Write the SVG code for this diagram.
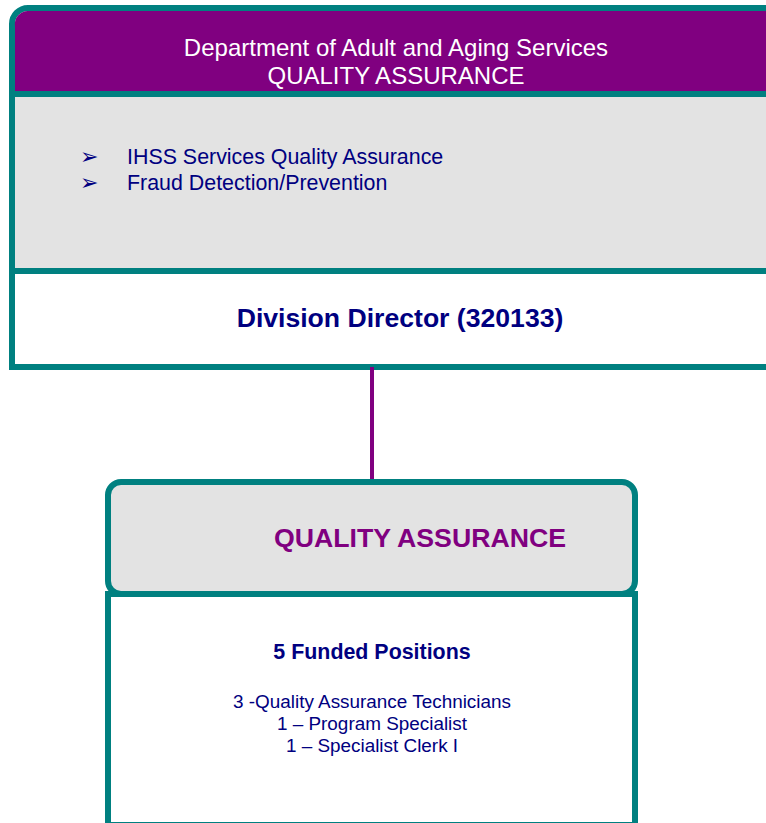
<svg xmlns="http://www.w3.org/2000/svg" width="766" height="823" viewBox="0 0 766 823">
<style>
.t{font-family:"Liberation Sans",Arial,sans-serif}
.navy{fill:#000080}
.bd{stroke:#008080;stroke-width:6}
.ar{font-family:"DejaVu Sans",sans-serif;font-size:22px;fill:#000080}
</style>
<rect width="766" height="823" fill="#ffffff"/>
<g id="top-box">
  <path d="M12 367 V24 A16 16 0 0 1 28 8 H810 V367 Z" fill="#ffffff" class="bd"/>
  <path d="M15 91 V26 A13 13 0 0 1 28 11 H810 V91 Z" fill="#800080"/>
  <rect x="15" y="97" width="795" height="171" fill="#e3e3e3"/>
  <line x1="12" y1="94" x2="810" y2="94" class="bd"/>
  <line x1="12" y1="271" x2="810" y2="271" class="bd"/>
  <text class="t" x="396" y="56" font-size="24" fill="#ffffff" text-anchor="middle">Department of Adult and Aging Services</text>
  <text class="t" x="396" y="84" font-size="24" fill="#ffffff" text-anchor="middle">QUALITY ASSURANCE</text>
  <text x="80" y="164" class="ar">➢</text>
  <text x="80" y="190" class="ar">➢</text>
  <text class="t navy" x="127" y="164" font-size="21.4">IHSS Services Quality Assurance</text>
  <text class="t navy" x="127" y="190" font-size="21.4">Fraud Detection/Prevention</text>
  <text class="t navy" x="400" y="327" font-size="26.6" font-weight="bold" text-anchor="middle">Division Director (320133)</text>
</g>
<g id="connectors">
  <line x1="372" y1="367" x2="372" y2="490" stroke="#800080" stroke-width="4"/>
</g>
<g id="qa-details">
  <rect x="108" y="594" width="527" height="231" fill="#ffffff" class="bd"/>
  <text class="t navy" x="372" y="659" font-size="21.4" font-weight="bold" text-anchor="middle">5 Funded Positions</text>
  <text class="t navy" x="372" y="708" font-size="18.9" text-anchor="middle">3 -Quality Assurance Technicians</text>
  <text class="t navy" x="372" y="730" font-size="18.9" text-anchor="middle">1 – Program Specialist</text>
  <text class="t navy" x="372" y="752" font-size="18.9" text-anchor="middle">1 – Specialist Clerk I</text>
</g>
<g id="qa-header">
  <rect x="108" y="482" width="527" height="112" rx="13" fill="#e3e3e3" class="bd"/>
  <text class="t" x="420" y="547" font-size="26.7" font-weight="bold" fill="#800080" text-anchor="middle">QUALITY ASSURANCE</text>
</g>
</svg>
